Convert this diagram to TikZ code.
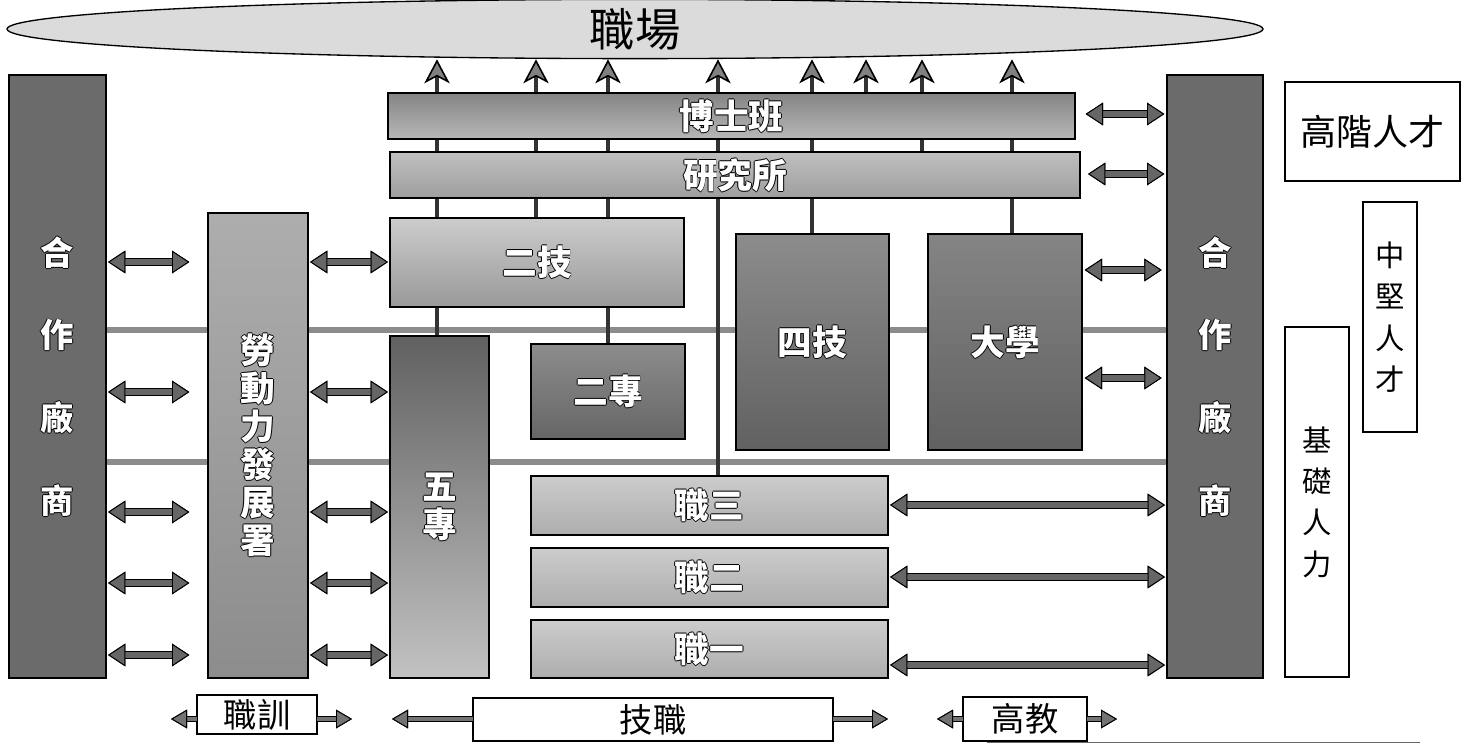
\documentclass[tikz,border=0pt]{standalone}
\usepackage{fontspec}
\newfontfamily\cjk{Noto Sans CJK TC}
\usetikzlibrary{arrows.meta,shapes.geometric}
\pgfdeclarelayer{bg}
\pgfsetlayers{bg,main}

% white label with a dark rim
\newcommand\olab[1]{\leavevmode\rlap{\color{black}\kern-0.7pt#1}\rlap{\color{black}\kern0.7pt#1}\rlap{\color{black}\raisebox{0.7pt}{#1}}\rlap{\color{black}\raisebox{-0.7pt}{#1}}{\color{white}#1}}

\tikzset{every picture/.style={line width=0.75pt}}
\tikzset{
  unit/.style={draw=black, line width=1pt, inner sep=0pt, outer sep=0pt, align=center},
  tag/.style={unit, fill=white, line width=1.2pt},
  colfont/.style={font=\cjk\bfseries\fontsize{25}{62}\selectfont},
  stackfont/.style={font=\cjk\bfseries\fontsize{26}{28.5}\selectfont},
  boxfont/.style={font=\cjk\bfseries\fontsize{26}{30}\selectfont},
  sidefont/.style={font=\cjk\fontsize{22}{31}\selectfont},
  tagfont/.style={font=\cjk\fontsize{25}{25}\selectfont},
  bar/.style={draw=black!70, line width=0.6pt, double=black!45, double distance=4pt},
  link/.style={draw=black!80, line width=2.6pt},
  uparr/.style={link, -{Stealth[length=18pt,width=19pt,inset=5pt,fill=black!50,color=black,line width=1.2pt]}},
  dblarr/.style={{Triangle[length=13pt,width=17pt,fill=black!60,color=black,line width=0.7pt]}-{Triangle[length=13pt,width=17pt,fill=black!60,color=black,line width=0.7pt]}, draw=black!60, line width=4pt, preaction={draw=black, line width=5.6pt}},
  sarr/.style={-{Triangle[length=12pt,width=14pt,fill=black!55,color=black,line width=0.7pt]}, draw=black!55, line width=2.8pt, preaction={draw=black, line width=4.2pt}}
}

\begin{document}
\begin{tikzpicture}[x=0.75pt,y=0.75pt,yscale=-1,xscale=1]
\useasboundingbox (0,0) rectangle (1465,743);

%Shape: Ellipse [workplace]
\node[draw, ellipse, fill=black!14, line width=1pt, minimum width=942pt, minimum height=40.5pt, inner sep=0pt, font=\cjk\fontsize{34}{34}\selectfont] (work) at (635,29) {職場};

%Shape: Rectangle [partner firms, both sides]
\node[unit, fill=black!58, colfont, minimum width=72.75pt, minimum height=452.25pt] (lcoop) at (57.5,376.5) {\olab{合}\\\olab{作}\\\olab{廠}\\\olab{商}};
\node[unit, fill=black!58, colfont, minimum width=72pt, minimum height=452.25pt] (rcoop) at (1215,376.5) {\olab{合}\\\olab{作}\\\olab{廠}\\\olab{商}};
%Shape: Rectangle [labour agency]
\node[unit, top color=black!32, bottom color=black!45, stackfont, minimum width=75pt, minimum height=348.75pt] (labor) at (258,445.5) {\olab{勞}\\\olab{動}\\\olab{力}\\\olab{發}\\\olab{展}\\\olab{署}};
%Shape: Rectangle [schools]
\node[unit, top color=black!48, bottom color=black!28, boxfont, minimum width=515.25pt, minimum height=34.5pt] (phd) at (731.5,116) {\olab{博士班}};
\node[unit, top color=black!25, bottom color=black!38, boxfont, minimum width=517.5pt, minimum height=34.5pt] (grad) at (735,175) {\olab{研究所}};
\node[unit, top color=black!20, bottom color=black!40, boxfont, minimum width=220.5pt, minimum height=66.75pt] (tech2) at (537,262.5) {\olab{二技}};
\node[unit, top color=black!62, bottom color=black!24, stackfont, minimum width=74.25pt, minimum height=256.5pt] (five) at (439.5,507) {\olab{五}\\\olab{專}};
\node[unit, top color=black!45, bottom color=black!60, boxfont, minimum width=115.5pt, minimum height=71.25pt] (jc2) at (608,391.5) {\olab{二專}};
\node[unit, top color=black!45, bottom color=black!62, boxfont, minimum width=114.75pt, minimum height=162pt] (tech4) at (812.5,342) {\olab{四技}};
\node[unit, top color=black!48, bottom color=black!62, boxfont, minimum width=115.5pt, minimum height=162pt] (univ) at (1005,342) {\olab{大學}};
\node[unit, top color=black!20, bottom color=black!32, boxfont, minimum width=267.75pt, minimum height=44.25pt] (voc3) at (709.5,505.5) {\olab{職三}};
\node[unit, top color=black!20, bottom color=black!32, boxfont, minimum width=267.75pt, minimum height=44.25pt] (voc2) at (709.5,577.5) {\olab{職二}};
\node[unit, top color=black!20, bottom color=black!32, boxfont, minimum width=267.75pt, minimum height=43.5pt] (voc1) at (709.5,649) {\olab{職一}};

%Shape: Rectangle [talent levels]
\node[tag, font=\cjk\fontsize{27}{27}\selectfont, minimum width=131.25pt, minimum height=74.25pt] (high) at (1372.5,131.5) {高階人才};
\node[tag, sidefont, minimum width=40.5pt, minimum height=172.5pt] (mid) at (1390,317) {中\\堅\\人\\才};
\node[tag, sidefont, minimum width=48pt, minimum height=262.5pt] (base) at (1317,502) {基\\礎\\人\\力};

%Shape: Rectangle [tracks]
\node[tag, tagfont, minimum width=90pt, minimum height=29.25pt] (train) at (257,714.5) {職訓};
\node[tag, tagfont, minimum width=270pt, minimum height=32.25pt] (techvoc) at (653,719.5) {技職};
\node[tag, tagfont, minimum width=93pt, minimum height=33pt] (higher) at (1025,719) {高教};

% rows and columns
\coordinate (b1) at (0,330);
\coordinate (b2) at (0,462);
\coordinate (c1) at (437,0);
\coordinate (c2) at (536,0);
\coordinate (c3) at (608,0);
\coordinate (c4) at (718,0);
\coordinate (c5) at (812,0);
\coordinate (c6) at (866,0);
\coordinate (c7) at (922,0);
\coordinate (c8) at (1012,0);
\coordinate (lr1) at (0,262);
\coordinate (lr2) at (0,392);
\coordinate (lr3) at (0,512);
\coordinate (lr4) at (0,583);
\coordinate (lr5) at (0,655);
\coordinate (rr1) at (0,114);
\coordinate (rr2) at (0,174);
\coordinate (rr3) at (0,270);
\coordinate (rr4) at (0,378);
\coordinate (rr5) at (0,505);
\coordinate (rr6) at (0,577);
\coordinate (rr7) at (0,665);
\coordinate (yb) at (0,719);
\coordinate (trL) at (171,719);
\coordinate (trR) at (352,719);
\coordinate (tvL) at (392,719);
\coordinate (tvR) at (888,719);
\coordinate (heL) at (937,719);
\coordinate (heR) at (1117,719);

\begin{pgfonlayer}{bg}
%Straight Lines [level bars]
\draw[bar] (lcoop.east |- b1) -- (rcoop.west |- b1);
\draw[bar] (lcoop.east |- b2) -- (rcoop.west |- b2);
%Straight Lines [up to workplace]
\foreach \bx/\c in {tech2/c1,tech2/c2,tech2/c3,voc3/c4,tech4/c5,phd/c6,grad/c7,univ/c8}
  \draw[uparr] (\bx.north -| \c) -- (work.south -| \c);
\draw[link] (five.north -| c1) -- (tech2.south -| c1);
\draw[link] (jc2.north -| c3) -- (tech2.south -| c3);
\end{pgfonlayer}

%Double Arrows [left side]
\foreach \r in {lr1,lr2,lr3,lr4,lr5}
  \draw[dblarr, shorten <=1.5pt, shorten >=14pt] (lcoop.east |- \r) -- (labor.west |- \r);
\draw[dblarr, shorten <=1.5pt, shorten >=1.5pt] (labor.east |- lr1) -- (tech2.west |- lr1);
\foreach \r in {lr2,lr3,lr4,lr5}
  \draw[dblarr, shorten <=1.5pt, shorten >=1.5pt] (labor.east |- \r) -- (five.west |- \r);
%Double Arrows [right side]
\draw[dblarr, shorten <=8pt, shorten >=2pt] (phd.east |- rr1) -- (rcoop.west |- rr1);
\draw[dblarr, shorten <=6pt, shorten >=2pt] (grad.east |- rr2) -- (rcoop.west |- rr2);
\foreach \r in {rr3,rr4}
  \draw[dblarr, shorten <=2pt, shorten >=4pt] (univ.east |- \r) -- (rcoop.west |- \r);
\foreach \bx/\r in {voc3/rr5,voc2/rr6,voc1/rr7}
  \draw[dblarr, shorten <=1.5pt, shorten >=1.5pt] (\bx.east |- \r) -- (rcoop.west |- \r);

%Arrows [tracks]
\draw[sarr] (train.west |- yb) -- (trL);
\draw[sarr] (train.east |- yb) -- (trR);
\draw[sarr] (techvoc.west |- yb) -- (tvL);
\draw[sarr] (techvoc.east |- yb) -- (tvR);
\draw[sarr] (higher.west |- yb) -- (heL);
\draw[sarr] (higher.east |- yb) -- (heR);

%Straight Lines [bottom edge]
\draw[black!60, line width=0.6pt] (987,742) -- (1420,742);

\end{tikzpicture}
\end{document}
